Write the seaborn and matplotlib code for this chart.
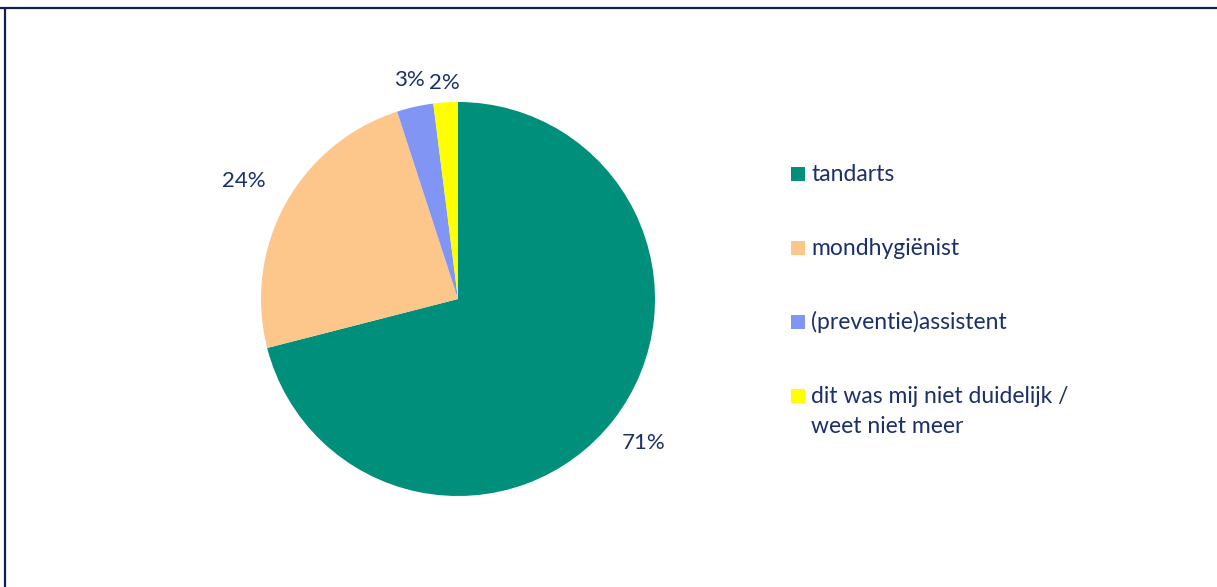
import matplotlib
matplotlib.use("Agg")
import numpy as np
import matplotlib.pyplot as plt
import seaborn as sns
from matplotlib.patches import Rectangle
from matplotlib.lines import Line2D

# data
categories = ["tandarts", "mondhygiënist", "(preventie)assistent",
              "dit was mij niet duidelijk /\nweet niet meer"]
shares = [71, 24, 3, 2]
colors = ["#008F7A", "#FDC78C", "#8195F4", "#FFFF00"]
# how far out each percentage label sits (in pie radii)
label_dist = [1.19, 1.24, 1.14, 1.10]

navy = "#1B2F6B"

sns.set_theme(style="white")
plt.rcParams["font.family"] = ["Lato", "DejaVu Sans"]

W, H = 1217, 587
fig = plt.figure(figsize=(W / 100, H / 100), dpi=100)

# pie axes: centre (458, 299) px, radius ~197 px
r = 197
ax = fig.add_axes([(458 - r) / W, (H - 299 - r) / H, 2 * r / W, 2 * r / H])
wedges, texts, pcts = ax.pie(
    shares, colors=colors, startangle=90, counterclock=False,
    autopct="%1.0f%%", pctdistance=1.18,
    wedgeprops={"linewidth": 0, "edgecolor": "none"},
    textprops={"color": navy, "fontsize": 16},
)
for w, t, d in zip(wedges, pcts, label_dist):
    mid = np.deg2rad((w.theta1 + w.theta2) / 2)
    t.set_position((d * np.cos(mid), d * np.sin(mid)))
ax.set_xlim(-1, 1)
ax.set_ylim(-1, 1)
ax.set_aspect("equal")

# hand-made legend so the square lines up with the first text line
baselines = [181, 255, 329, 403]
line_gap = 30
for wedge, label, y in zip(wedges, categories, baselines):
    fig.add_artist(Rectangle((791 / W, 1 - y / H), 14 / W, 14 / H,
                             transform=fig.transFigure,
                             facecolor=wedge.get_facecolor(), edgecolor="none"))
    for i, part in enumerate(label.split("\n")):
        fig.text(811 / W, 1 - (y + i * line_gap) / H, part, color=navy,
                 fontsize=16.5, va="baseline", ha="left")

# frame lines (top and left)
fig.add_artist(Line2D([0, 1], [1 - 8 / H, 1 - 8 / H], transform=fig.transFigure,
                      color="#0E2057", lw=1.6))
fig.add_artist(Line2D([5 / W, 5 / W], [0, 1 - 8 / H], transform=fig.transFigure,
                      color="#0E2057", lw=1.6))

fig.savefig("out.png", dpi=100)
